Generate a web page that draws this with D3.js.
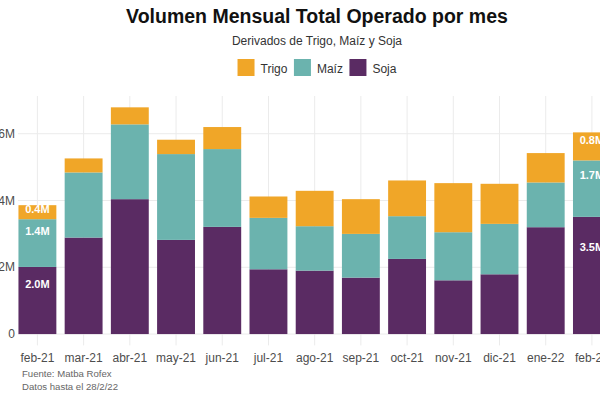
<!DOCTYPE html>
<html>
<head>
<meta charset="utf-8">
<script src="https://cdn.jsdelivr.net/npm/d3@7"></script>
<style>
  html, body { margin: 0; padding: 0; background: #ffffff; }
  svg { display: block; font-family: "Liberation Sans", Arial, Helvetica, sans-serif; }
</style>
</head>
<body>
<svg id="chart" width="600" height="400"></svg>
<script>
// ---- Data (millions of contracts) ----
const months = ["feb-21","mar-21","abr-21","may-21","jun-21","jul-21","ago-21","sep-21","oct-21","nov-21","dic-21","ene-22","feb-22"];
const trigo = [0.42, 0.42, 0.51, 0.43, 0.66, 0.64, 1.06, 1.04, 1.07, 1.47, 1.20, 0.88, 0.84];
const maiz  = [1.43, 1.95, 2.24, 2.57, 2.33, 1.54, 1.33, 1.31, 1.28, 1.44, 1.51, 1.34, 1.69];
const soja  = [2.01, 2.89, 4.04, 2.82, 3.21, 1.94, 1.90, 1.69, 2.25, 1.61, 1.79, 3.20, 3.51];
const seriesNames = ["Trigo", "Maíz", "Soja"];
const yTicks = [0, 2, 4, 6];
const yTickLabels = ["0", "2M", "4M", "6M"];
const labeledMonths = ["feb-21", "feb-22"];

const titleText = "Volumen Mensual Total Operado por mes";
const subtitleText = "Derivados de Trigo, Maíz y Soja";
const captionLines = ["Fuente: Matba Rofex", "Datos hasta el 28/2/22"];

// ---- Styles ----
const colors = { "Trigo": "#F0A628", "Maíz": "#6BB3AE", "Soja": "#5A2B63" };
const keyOf = { "Trigo": "trigo", "Maíz": "maiz", "Soja": "soja" };

const table = months.map((m, i) => ({ month: m, trigo: trigo[i], maiz: maiz[i], soja: soja[i] }));

const svg = d3.select("#chart");
const W = 600, H = 400;
const centerX = 317;

// scales
const step = 46.21, x0 = 14.3;
const x = d3.scaleBand().domain(months)
  .range([x0, x0 + step * months.length])
  .paddingInner(0.18).paddingOuter(0.09);

const maxTotal = d3.max(table, d => d.trigo + d.maiz + d.soja);
const ex = maxTotal * 0.05;
const y = d3.scaleLinear().domain([-ex, maxTotal + ex]).range([345.4, 96]);

const panelLeft = 18, panelRight = W;

// grid
const grid = svg.append("g").attr("class", "grid");
grid.selectAll("line.h").data(yTicks).join("line")
  .attr("class", "h")
  .attr("x1", panelLeft).attr("x2", panelRight)
  .attr("y1", d => y(d)).attr("y2", d => y(d))
  .attr("stroke", "#ebebeb").attr("stroke-width", 1);
grid.selectAll("line.v").data(months).join("line")
  .attr("class", "v")
  .attr("x1", d => x(d) + x.bandwidth() / 2).attr("x2", d => x(d) + x.bandwidth() / 2)
  .attr("y1", y.range()[1]).attr("y2", y.range()[0])
  .attr("stroke", "#ebebeb").attr("stroke-width", 1);

// stacked bars (Soja at bottom)
const stackOrder = ["soja", "maiz", "trigo"];
const nameOfKey = { soja: "Soja", maiz: "Maíz", trigo: "Trigo" };
const stacked = d3.stack().keys(stackOrder)(table);

const layers = svg.append("g").selectAll("g.layer").data(stacked).join("g")
  .attr("class", "layer")
  .attr("fill", s => colors[nameOfKey[s.key]]);

layers.selectAll("rect").data(s => s).join("rect")
  .attr("x", d => x(d.data.month))
  .attr("width", x.bandwidth())
  .attr("y", d => y(d[1]))
  .attr("height", d => y(d[0]) - y(d[1]));

// value labels on first and last bars
const lbl = svg.append("g");
stacked.forEach(s => {
  s.forEach(d => {
    if (!labeledMonths.includes(d.data.month)) return;
    const v = d[1] - d[0];
    lbl.append("text")
      .attr("x", x(d.data.month) + x.bandwidth() / 2)
      .attr("y", y(d[0] + v * 0.74))
      .attr("dy", "0.35em")
      .attr("text-anchor", "middle")
      .attr("fill", "#ffffff")
      .attr("font-weight", "bold")
      .attr("font-size", "11px")
      .text(d3.format(".1f")(v) + "M");
  });
});

// y axis labels
svg.append("g").selectAll("text").data(yTicks).join("text")
  .attr("x", 15).attr("y", d => y(d)).attr("dy", "0.35em")
  .attr("text-anchor", "end")
  .attr("font-size", "12px").attr("fill", "#4d4d4d")
  .text((d, i) => yTickLabels[i]);

// x axis labels
svg.append("g").selectAll("text").data(months).join("text")
  .attr("x", d => x(d) + x.bandwidth() / 2).attr("y", 362)
  .attr("text-anchor", "middle")
  .attr("font-size", "12px").attr("fill", "#4d4d4d")
  .text(d => d);

// title, subtitle
svg.append("text").attr("x", centerX).attr("y", 23).attr("text-anchor", "middle")
  .attr("font-size", "19.5px").attr("font-weight", "bold").attr("fill", "#111")
  .text(titleText);
svg.append("text").attr("x", centerX).attr("y", 45).attr("text-anchor", "middle")
  .attr("font-size", "12px").attr("fill", "#333")
  .text(subtitleText);

// legend
const legend = svg.append("g");
const sw = 17, gapText = 6, gapItem = 6.5;
let cx = 0;
const items = seriesNames.map(name => {
  const g = legend.append("g");
  g.append("rect").attr("x", 0).attr("y", 59).attr("width", sw).attr("height", sw)
    .attr("fill", colors[name]);
  const t = g.append("text").attr("x", sw + gapText).attr("y", 72.5)
    .attr("font-size", "12px").attr("fill", "#333").text(name);
  const w = t.node().getComputedTextLength();
  g.attr("transform", `translate(${cx},0)`);
  cx += sw + gapText + w + gapItem;
  return g;
});
const totalW = cx - gapItem;
legend.attr("transform", `translate(${centerX - totalW / 2},0)`);

// caption
svg.append("g").selectAll("text").data(captionLines).join("text")
  .attr("x", 22).attr("y", (d, i) => 377 + i * 13)
  .attr("font-size", "9.6px").attr("fill", "#666")
  .text(d => d);
</script>
</body>
</html>
